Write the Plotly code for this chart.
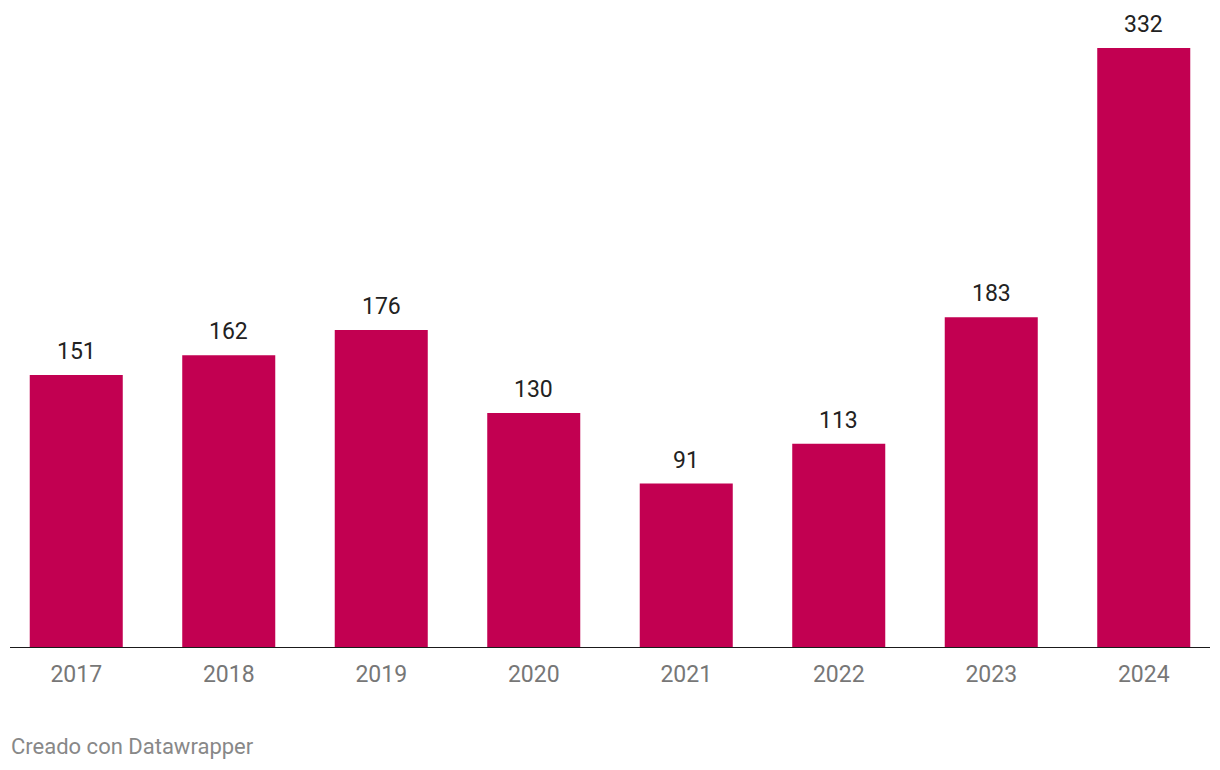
import plotly.graph_objects as go

years = ["2017", "2018", "2019", "2020", "2021", "2022", "2023", "2024"]
values = [151, 162, 176, 130, 91, 113, 183, 332]

BAR = "#c20051"
W, H = 1220, 770
plot_h = 648

fig = go.Figure()
fig.add_trace(go.Bar(
    x=years, y=values, marker_color=BAR, marker_line_width=0,
    hoverinfo="skip",
))

for i, v in enumerate(values):
    fig.add_annotation(
        x=i, y=v, xref="x", yref="y", text=str(v), showarrow=False,
        yanchor="bottom", yshift=8,
        font=dict(family="Roboto", size=23, color="#222222"),
    )

fig.add_annotation(
    xref="paper", yref="paper", x=9 / W, y=-98 / plot_h, xanchor="left",
    yanchor="middle", text="Creado con Datawrapper", showarrow=False,
    font=dict(family="Roboto", size=22, color="#888888"),
)

fig.add_shape(
    type="line", xref="paper", yref="y", x0=10 / W, x1=1210 / W, y0=0, y1=0,
    line=dict(color="#1a1a1a", width=2),
)

fig.update_layout(
    width=W, height=H,
    margin=dict(l=0, r=0, t=0, b=H - plot_h),
    paper_bgcolor="white", plot_bgcolor="white",
    bargap=0.39, showlegend=False,
    xaxis=dict(
        type="category", range=[-0.5, 7.5], showgrid=False, zeroline=False,
        showline=False, ticks="",
        tickfont=dict(family="Roboto", size=23, color="#777777"),
        ticklabelstandoff=10,
    ),
    yaxis=dict(
        range=[0, plot_h * 332 / 600], showticklabels=False, showgrid=False,
        zeroline=False, showline=False, ticks="",
    ),
)

fig.write_html(
    "out.html",
    config={"displayModeBar": False, "staticPlot": True},
    post_script="document.body.style.margin='0';document.body.style.overflow='hidden';",
)
